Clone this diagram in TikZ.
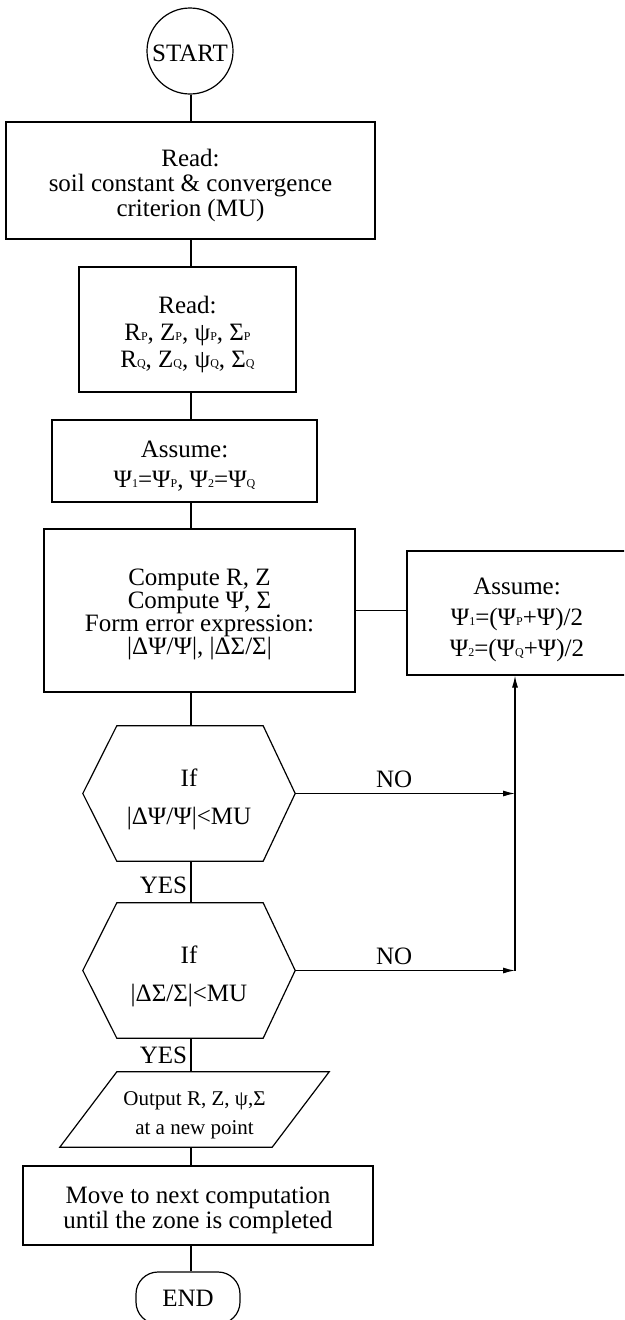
\documentclass[tikz,border=0pt]{standalone}
\usepackage{fontspec}
\setmainfont{Liberation Serif}
\usetikzlibrary{arrows.meta,calc}
\newcommand\lowsub[1]{{\fontsize{12}{12}\selectfont #1}}
\newcommand\dn[1][28pt]{\rule{0pt}{#1}}
\tikzset{
  conn/.style={line width=1.2pt},
  arr/.style={line width=1.2pt,-{Latex[length=12pt,width=6pt]}},
  proc/.style={draw,line width=1.2pt,inner sep=0pt,align=center},
  fnt/.style={font=\fontsize{25}{#1}\selectfont},
  plain/.style={inner sep=0pt,align=center},
  lbl/.style={font=\fontsize{25}{25}\selectfont}
}
\begin{document}
\begin{tikzpicture}[x=1pt,y=-1pt]
\clip (0,0) rectangle (624,1320);
\coordinate (ax) at (191,0);
\coordinate (jx) at (515,0);
% nodes
\node[proc,fnt=25,circle,minimum size=86pt] (start) at (190,51) {\dn[22pt]START};
\node[proc,fnt=25,minimum width=369pt,minimum height=117pt] (b1) at (190.5,180.5)
  {\dn Read:\\soil constant \& convergence\\criterion (MU)};
\node[proc,fnt=27,minimum width=217pt,minimum height=125pt] (b2) at (187.5,329.5)
  {\dn Read:\\R\lowsub{P}, Z\lowsub{P}, ψ\lowsub{P}, Σ\lowsub{P}\\R\lowsub{Q}, Z\lowsub{Q}, ψ\lowsub{Q}, Σ\lowsub{Q}};
\node[proc,fnt=30,minimum width=265pt,minimum height=82pt] (b3) at (184.5,461)
  {\dn[26pt]Assume:\\Ψ\lowsub{1}=Ψ\lowsub{P}, Ψ\lowsub{2}=Ψ\lowsub{Q}};
\node[proc,fnt=23,minimum width=311pt,minimum height=163pt] (b4) at (199.5,610.5)
  {\dn[25pt]Compute R, Z\\Compute Ψ, Σ\\Form error expression:\\|ΔΨ/Ψ|, |ΔΣ/Σ|};
\node[proc,fnt=31,minimum width=220pt,minimum height=124pt] (asm) at (517,613)
  {\dn[30pt]Assume:\\Ψ\lowsub{1}=(Ψ\lowsub{P}+Ψ)/2\\Ψ\lowsub{2}=(Ψ\lowsub{Q}+Ψ)/2};
\node[plain,fnt=25,minimum width=212pt,minimum height=135pt] (h1) at (189,793.5)
  {\dn[30pt]If\\[13pt]|ΔΨ/Ψ|<MU};
\node[plain,fnt=25,minimum width=212pt,minimum height=135pt] (h2) at (189,970.5)
  {\dn[30pt]If\\[13pt]|ΔΣ/Σ|<MU};
\node[plain,font=\fontsize{21}{29}\selectfont,minimum width=269pt,minimum height=75pt] (out) at (194.5,1109.5)
  {\dn[25pt]Output R, Z, ψ,Σ\\at a new point};
\node[proc,fnt=25,minimum width=350pt,minimum height=79pt] (b5) at (198,1205.5)
  {\dn[26pt]Move to next computation\\until the zone is completed};
\node[proc,fnt=25,rounded corners=22pt,minimum width=104pt,minimum height=52pt] (end) at (188,1298) {END};
% shapes drawn around plain nodes
\foreach \h in {h1,h2}{
  \draw[conn] (\h.west) -- ([xshift=34pt]\h.north west) -- ([xshift=-32pt]\h.north east)
    -- (\h.east) -- ([xshift=-32pt]\h.south east) -- ([xshift=34pt]\h.south west) -- cycle;
}
\draw[conn] ([xshift=57pt]out.north west) -- (out.north east)
  -- ([xshift=-57pt]out.south east) -- (out.south west) -- cycle;
% connectors
\draw[conn] (ax|-start.south) -- (ax|-b1.north);
\draw[conn] (ax|-b1.south) -- (ax|-b2.north);
\draw[conn] (ax|-b2.south) -- (ax|-b3.north);
\draw[conn] (ax|-b3.south) -- (ax|-b4.north);
\draw[conn] (ax|-b4.south) -- (ax|-h1.north);
\draw[conn] (ax|-h1.south) -- node[left,lbl,yshift=-3pt]{YES} (ax|-h2.north);
\draw[conn] (ax|-h2.south) -- node[left,lbl]{YES} (ax|-out.north);
\draw[conn] (ax|-out.south) -- (ax|-b5.north);
\draw[conn] (ax|-b5.south) -- (ax|-end.north);
\draw[conn] (b4.east) -- (b4.east -| asm.west);
\draw[arr] (h1.east) -- node[above,lbl,pos=0.45,yshift=2pt]{NO} (h1.east -| jx);
\draw[arr] (h2.east) -- node[above,lbl,pos=0.45,yshift=2pt]{NO} (h2.east -| jx);
\draw[arr] (h2.east -| jx) -- (jx |- asm.south);
\end{tikzpicture}
\end{document}
